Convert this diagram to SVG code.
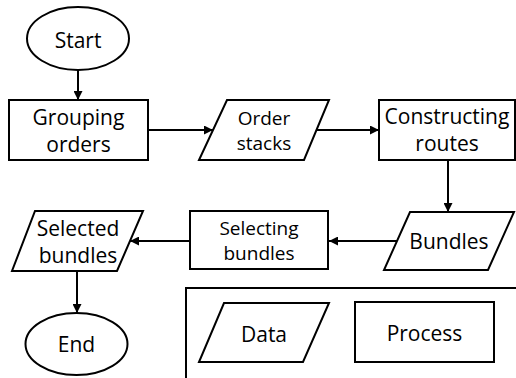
<svg xmlns="http://www.w3.org/2000/svg" width="516" height="378" viewBox="0 0 516 378">
<style>
.s{fill:#fff;stroke:#000;stroke-width:2}
.t{font-family:"Open Sans","Noto Sans",sans-serif;font-size:21px;fill:#000;text-anchor:middle}
.m{font-size:19px}
.c{fill:none;stroke:#000;stroke-width:2}
</style>
<defs>
<marker id="a" viewBox="0 0 10 10" refX="10" refY="5" markerWidth="4.5" markerHeight="4.5" orient="auto" markerUnits="strokeWidth">
<path d="M0,0 L10,5 L0,10 z" fill="#000"/>
</marker>
</defs>
<rect width="516" height="378" fill="#fff"/>
<g id="connectors">
<line class="c" x1="78" y1="70" x2="78" y2="100" marker-end="url(#a)"/>
<line class="c" x1="148" y1="130" x2="213" y2="130" marker-end="url(#a)"/>
<line class="c" x1="317" y1="130" x2="379" y2="130" marker-end="url(#a)"/>
<line class="c" x1="448" y1="160" x2="448" y2="212" marker-end="url(#a)"/>
<line class="c" x1="397" y1="241" x2="329" y2="241" marker-end="url(#a)"/>
<line class="c" x1="190" y1="241" x2="130" y2="241" marker-end="url(#a)"/>
<line class="c" x1="77" y1="271" x2="77" y2="313" marker-end="url(#a)"/>
</g>
<g id="start">
<ellipse class="s" cx="78" cy="38.5" rx="51" ry="31.5"/>
<text class="t" x="78" y="48">Start</text>
</g>
<g id="grouping">
<rect class="s" x="9" y="100" width="139" height="60"/>
<text class="t" x="78.5" y="125">Grouping</text>
<text class="t" x="78.5" y="152">orders</text>
</g>
<g id="orderstacks">
<polygon class="s" points="227,100 329,100 304,160 199,160"/>
<text class="t m" x="264" y="125">Order</text>
<text class="t m" x="264" y="150">stacks</text>
</g>
<g id="constructing">
<rect class="s" x="379" y="100" width="136" height="60"/>
<text class="t" x="447" y="124">Constructing</text>
<text class="t" x="447" y="151">routes</text>
</g>
<g id="bundles">
<polygon class="s" points="410,212 514,212 488,270 384,270"/>
<text class="t" x="449" y="249">Bundles</text>
</g>
<g id="selecting">
<rect class="s" x="190" y="211" width="138" height="58"/>
<text class="t m" x="259" y="235">Selecting</text>
<text class="t m" x="259" y="260">bundles</text>
</g>
<g id="selected">
<polygon class="s" points="35,211 143,211 117,271 12,271"/>
<text class="t" x="78" y="236">Selected</text>
<text class="t" x="78" y="263">bundles</text>
</g>
<g id="end">
<ellipse class="s" cx="76.5" cy="344" rx="51" ry="31"/>
<text class="t" x="76.5" y="352">End</text>
</g>
<g id="legend">
<rect class="s" x="186" y="288" width="340" height="100"/>
<g id="legend-data">
<polygon class="s" points="224,303 329,303 303,362 199,362"/>
<text class="t" x="264" y="342">Data</text>
</g>
<g id="legend-process">
<rect class="s" x="355" y="302" width="139" height="60"/>
<text class="t" x="424.5" y="341">Process</text>
</g>
</g>
</svg>
